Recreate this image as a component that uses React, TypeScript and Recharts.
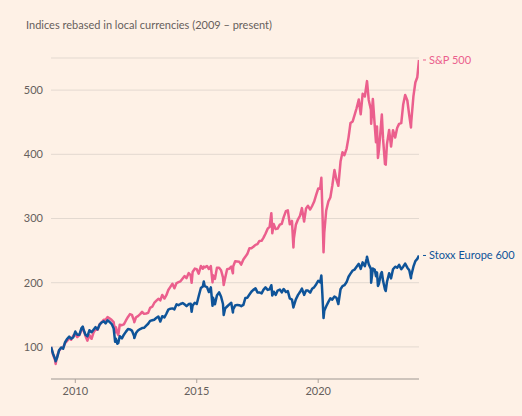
import { LineChart, Line, XAxis, YAxis, CartesianGrid } from 'recharts'

// decimal years (roughly month ends plus a few weekly extremes)
const dates = [
  2009.0, 2009.08, 2009.17, 2009.19, 2009.25, 2009.33, 2009.42, 2009.5, 2009.58, 2009.67, 2009.75, 2009.83, 2009.92,
  2010.0, 2010.08, 2010.17, 2010.25, 2010.31, 2010.33, 2010.42, 2010.5, 2010.58, 2010.67, 2010.75, 2010.83, 2010.92,
  2011.0, 2011.08, 2011.17, 2011.25, 2011.33, 2011.42, 2011.5, 2011.58, 2011.64, 2011.67, 2011.73, 2011.77, 2011.83, 2011.92,
  2012.0, 2012.08, 2012.17, 2012.25, 2012.33, 2012.42, 2012.43, 2012.5, 2012.58, 2012.67, 2012.75, 2012.83, 2012.92,
  2013.0, 2013.08, 2013.17, 2013.25, 2013.33, 2013.42, 2013.5, 2013.58, 2013.67, 2013.75, 2013.83, 2013.92,
  2014.0, 2014.08, 2014.17, 2014.25, 2014.33, 2014.42, 2014.5, 2014.58, 2014.67, 2014.75, 2014.79, 2014.83, 2014.92,
  2015.0, 2015.08, 2015.17, 2015.25, 2015.29, 2015.33, 2015.42, 2015.5, 2015.58, 2015.65, 2015.67, 2015.75, 2015.83, 2015.92,
  2016.0, 2016.08, 2016.11, 2016.17, 2016.25, 2016.33, 2016.42, 2016.49, 2016.5, 2016.58, 2016.67, 2016.75, 2016.83, 2016.92,
  2017.0, 2017.08, 2017.17, 2017.25, 2017.33, 2017.42, 2017.5, 2017.58, 2017.67, 2017.75, 2017.83, 2017.92,
  2018.0, 2018.07, 2018.08, 2018.11, 2018.17, 2018.25, 2018.33, 2018.42, 2018.5, 2018.58, 2018.67, 2018.75, 2018.83, 2018.92, 2018.98,
  2019.0, 2019.08, 2019.17, 2019.25, 2019.33, 2019.42, 2019.5, 2019.58, 2019.67, 2019.75, 2019.83, 2019.92,
  2020.0, 2020.08, 2020.13, 2020.17, 2020.22, 2020.25, 2020.33, 2020.42, 2020.5, 2020.58, 2020.67, 2020.75, 2020.83, 2020.92,
  2021.0, 2021.08, 2021.17, 2021.25, 2021.33, 2021.42, 2021.5, 2021.58, 2021.67, 2021.75, 2021.83, 2021.92,
  2022.0, 2022.01, 2022.08, 2022.17, 2022.18, 2022.25, 2022.33, 2022.38, 2022.42, 2022.46, 2022.5, 2022.58, 2022.62, 2022.67, 2022.75, 2022.78, 2022.83, 2022.92,
  2023.0, 2023.08, 2023.17, 2023.25, 2023.33, 2023.42, 2023.5, 2023.58, 2023.67, 2023.75, 2023.82, 2023.83, 2023.92,
  2024.0, 2024.08, 2024.15,
]

const sp500 = [
  100, 88.6, 78.9, 73.5, 85.6, 93.7, 98.6, 98.6, 105.9, 109.6, 113.4, 111.2, 117.6,
  119.7, 115.3, 118.5, 125.5, 130.6, 127.4, 116.9, 109.7, 118.3, 112.6, 122.4, 127.0, 126.7,
  135.0, 138.0, 142.4, 142.3, 146.4, 144.3, 141.8, 138.7, 122.5, 130.8, 122.0, 118.5, 134.5, 133.8,
  135.0, 140.8, 146.6, 151.1, 150.0, 140.6, 138.5, 146.2, 148.0, 151.0, 154.6, 151.5, 152.0,
  153.0, 160.8, 162.6, 168.4, 171.5, 175.0, 172.4, 180.9, 175.3, 180.5, 188.6, 193.8,
  198.3, 191.3, 199.5, 200.9, 202.2, 206.5, 210.3, 207.2, 215.0, 211.6, 199.8, 216.6, 221.9,
  221.0, 214.1, 225.9, 221.9, 225.0, 223.9, 226.1, 221.4, 225.8, 200.5, 211.6, 206.0, 223.1, 223.2,
  219.4, 208.2, 196.3, 207.3, 221.1, 221.6, 225.0, 214.6, 225.3, 233.3, 233.0, 232.7, 228.2, 236.0,
  240.3, 244.6, 253.7, 253.6, 255.9, 258.9, 260.0, 265.1, 265.3, 270.3, 276.3, 284.2,
  287.0, 308.3, 303.1, 277.0, 291.3, 283.4, 284.2, 290.3, 291.7, 302.2, 311.4, 312.7, 291.0, 296.2, 255.0,
  269.0, 290.2, 298.8, 304.1, 316.2, 295.3, 315.7, 319.8, 314.0, 319.5, 326.0, 337.1,
  346.7, 346.2, 363.4, 317.0, 247.4, 277.4, 312.5, 326.7, 332.7, 351.0, 375.6, 360.9, 350.9, 388.7,
  403.1, 398.6, 409.0, 426.4, 448.7, 451.2, 461.3, 471.7, 485.4, 462.3, 494.2, 490.1,
  511.5, 514.0, 484.7, 469.4, 447.5, 486.2, 443.4, 418.7, 443.4, 394.4, 406.2, 443.2, 462.0, 424.4, 384.8, 383.9, 415.5, 437.9,
  412.1, 437.5, 426.1, 441.0, 447.4, 448.6, 477.6, 492.5, 483.8, 460.2, 441.8, 450.1, 490.2,
  511.9, 520.1, 546.9,
]

const stoxx600 = [
  100, 89.8, 81.0, 77.6, 82.9, 94.6, 99.0, 97.1, 107.3, 112.7, 116.1, 112.7, 115.1,
  123.9, 119.0, 119.0, 128.8, 131.5, 127.8, 119.0, 116.5, 125.9, 122.9, 126.8, 130.7, 127.3,
  134.6, 138.0, 140.0, 136.6, 141.5, 138.5, 135.6, 128.8, 108.0, 112.7, 104.9, 106.0, 116.6, 113.2,
  119.0, 123.4, 127.8, 127.3, 125.4, 117.1, 113.7, 121.5, 125.4, 127.8, 129.3, 129.8, 133.2,
  136.1, 140.5, 141.5, 142.4, 144.9, 147.3, 139.5, 147.8, 145.9, 151.7, 158.0, 159.5,
  160.0, 158.5, 166.3, 164.9, 166.8, 168.3, 166.3, 163.4, 166.8, 167.3, 154.6, 164.4, 168.8,
  166.8, 179.0, 191.7, 194.1, 202.0, 194.6, 193.2, 185.4, 192.7, 164.0, 176.6, 166.3, 180.0, 184.9,
  178.5, 166.8, 149.8, 160.0, 162.9, 165.9, 168.8, 153.7, 158.5, 164.4, 165.4, 164.9, 163.4, 165.4,
  176.1, 176.6, 181.5, 185.9, 188.8, 191.2, 184.9, 184.9, 183.4, 189.3, 192.7, 188.8,
  189.8, 196.0, 193.7, 180.0, 185.9, 181.0, 187.8, 189.3, 184.9, 190.2, 185.4, 186.8, 175.6, 173.7, 161.5,
  164.4, 174.1, 181.0, 185.4, 190.7, 181.0, 187.8, 187.8, 184.4, 190.7, 192.7, 197.6,
  202.9, 200.5, 211.2, 183.4, 145.0, 156.1, 163.4, 170.2, 175.6, 173.7, 178.5, 176.6, 166.8, 189.8,
  194.6, 196.1, 201.0, 209.3, 214.1, 219.0, 220.5, 224.9, 229.3, 221.5, 231.7, 225.9,
  238.0, 240.5, 228.8, 221.5, 200.0, 222.0, 220.0, 210.0, 216.1, 195.0, 198.5, 213.7, 216.6, 202.9, 189.3, 187.0, 201.0, 214.6,
  206.8, 221.0, 224.9, 223.4, 227.8, 221.0, 224.9, 229.8, 223.4, 219.5, 207.0, 211.2, 224.9,
  233.7, 237.1, 242.4,
]

const yTicks = [100, 200, 300, 400, 500]
const xTicks = [2010, 2015, 2020]

const PINK = '#eb5f8d'
const BLUE = '#0f5499'
const TEXT = '#66605c'
const FONT = 'Lato, "Noto Sans", sans-serif'

const data = dates.map((d, i) => ({ date: d, sp: sp500[i], stoxx: stoxx600[i] }))

const endLabel = (name: string, color: string) => (props: any) => {
  const { x, y, index } = props
  if (index !== dates.length - 1) return null
  return (
    <g>
      <line x1={x + 4} x2={x + 7} y1={y} y2={y} stroke={color} strokeWidth={1} />
      <text x={x + 10} y={y} dy="0.35em" fill={color} fontSize={11} fontFamily={FONT}>
        {name}
      </text>
    </g>
  )
}

export default function App() {
  return (
    <div style={{ position: 'absolute', left: 0, top: 0, width: 522, height: 416, background: '#fef1e6' }}>
      <div
        style={{
          position: 'absolute',
          left: 26,
          top: 19,
          fontSize: 11,
          lineHeight: '11px',
          color: TEXT,
          fontFamily: FONT,
          whiteSpace: 'nowrap',
        }}
      >
        Indices rebased in local currencies (2009 – present)
      </div>
      <LineChart width={522} height={416} data={data} margin={{ top: 58, right: 103, bottom: 7, left: 0 }}>
        <CartesianGrid vertical={false} stroke="#e3d9d0" />
        <XAxis
          dataKey="date"
          type="number"
          domain={[2009, 2024.15]}
          ticks={xTicks}
          allowDataOverflow
          height={30}
          tickSize={4}
          tickMargin={4}
          axisLine={{ stroke: '#aca39c' }}
          tickLine={{ stroke: '#aca39c' }}
          tick={{ fill: TEXT, fontSize: 11, fontFamily: FONT }}
        />
        <YAxis
          type="number"
          domain={[50, 550]}
          ticks={yTicks}
          width={51}
          axisLine={false}
          tickLine={false}
          tick={{ fill: TEXT, fontSize: 11, fontFamily: FONT }}
        />
        <Line
          dataKey="sp"
          stroke={PINK}
          strokeWidth={2.5}
          strokeLinejoin="round"
          dot={false}
          isAnimationActive={false}
          label={endLabel('S&P 500', PINK)}
        />
        <Line
          dataKey="stoxx"
          stroke={BLUE}
          strokeWidth={2.5}
          strokeLinejoin="round"
          dot={false}
          isAnimationActive={false}
          label={endLabel('Stoxx Europe 600', BLUE)}
        />
      </LineChart>
    </div>
  )
}
